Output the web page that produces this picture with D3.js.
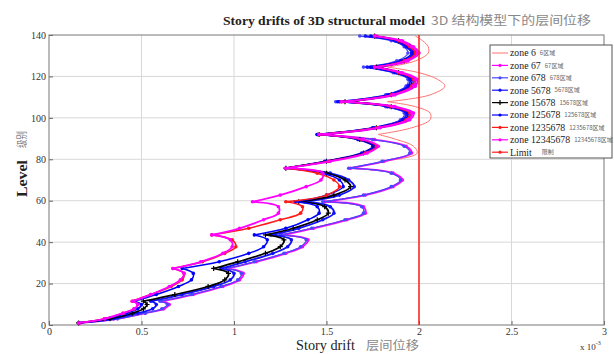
<!DOCTYPE html>
<meta charset="utf-8">
<style>
body { margin: 0; background: #fff; }
.axis .domain { display: none; }
.axis text { font-family: "Liberation Serif", serif; font-size: 10px; fill: #333; }
.axis line { stroke: #666; }
</style>
<svg width="614" height="354"></svg>
<script src="https://cdn.jsdelivr.net/npm/d3@7"></script>
<script>

var svg = d3.select("svg");

var xTicks = [0, 0.5, 1, 1.5, 2, 2.5, 3],
    yTicks = [0, 20, 40, 60, 80, 100, 120, 140],
    limitDrift = 2;

var belts = [1, 11.5, 27.3, 43.5, 59.5, 75.7, 92, 107.8, 124.5, 139.5];
var levels = [1, 3, 5.7, 7.8, 9.9, 11.5,
  14.7, 18.6, 21.8, 24.9, 27.3,
  30.5, 34.6, 37.8, 41.1, 43.5,
  46.7, 50.8, 54, 57.1, 59.5,
  62.7, 66.8, 70, 73.3, 75.7,
  79, 83, 86.3, 89.5, 92,
  95.2, 99.1, 102.3, 105.4, 107.8,
  111.1, 115.3, 118.6, 121.8, 124.5,
  127.5, 131.3, 134.3, 137.2, 139.5];

// story drift (x 10^-3)
var zone6 = [0.16, 0.37, 0.52, 0.61, 0.64, 0.60,
  0.77, 0.93, 1.02, 1.04, 0.96,
  1.11, 1.27, 1.36, 1.39, 1.25,
  1.42, 1.60, 1.70, 1.69, 1.48,
  1.70, 1.85, 1.90, 1.85, 1.62,
  1.82, 1.99, 1.97, 1.88, 1.78,
  1.96, 2.06, 2.06, 1.98, 1.83,
  2.06, 2.14, 2.10, 2.00, 1.83,
  1.98, 2.05, 2.05, 2.02, 1.98];
var zone67 = [0.17, 0.37, 0.52, 0.62, 0.65, 0.61,
  0.78, 0.94, 1.03, 1.05, 0.97,
  1.12, 1.28, 1.37, 1.40, 1.26,
  1.43, 1.61, 1.71, 1.70, 1.49,
  1.71, 1.86, 1.91, 1.86, 1.63,
  1.81, 1.96, 1.93, 1.76, 1.47,
  1.79, 1.95, 1.97, 1.87, 1.59,
  1.87, 1.98, 1.99, 1.91, 1.77,
  1.94, 2.00, 1.97, 1.91, 1.77];
var zone678 = [0.16, 0.37, 0.52, 0.61, 0.64, 0.60,
  0.77, 0.93, 1.02, 1.04, 0.96,
  1.11, 1.27, 1.36, 1.39, 1.25,
  1.42, 1.60, 1.70, 1.69, 1.48,
  1.70, 1.85, 1.90, 1.85, 1.62,
  1.80, 1.95, 1.92, 1.75, 1.45,
  1.75, 1.90, 1.92, 1.82, 1.55,
  1.82, 1.93, 1.94, 1.86, 1.70,
  1.88, 1.94, 1.92, 1.85, 1.68];
var zone5678 = [0.16, 0.35, 0.48, 0.56, 0.58, 0.55,
  0.72, 0.89, 0.98, 1.00, 0.93,
  1.06, 1.21, 1.29, 1.31, 1.20,
  1.35, 1.48, 1.54, 1.52, 1.38,
  1.57, 1.65, 1.62, 1.52, 1.28,
  1.49, 1.69, 1.75, 1.67, 1.45,
  1.75, 1.91, 1.93, 1.83, 1.56,
  1.83, 1.94, 1.95, 1.87, 1.72,
  1.90, 1.96, 1.93, 1.87, 1.71];
var zone15678 = [0.16, 0.33, 0.45, 0.51, 0.53, 0.51,
  0.68, 0.86, 0.95, 0.97, 0.89,
  1.02, 1.17, 1.25, 1.27, 1.17,
  1.32, 1.45, 1.51, 1.49, 1.35,
  1.54, 1.63, 1.60, 1.50, 1.28,
  1.50, 1.70, 1.76, 1.68, 1.46,
  1.77, 1.93, 1.95, 1.85, 1.60,
  1.85, 1.96, 1.97, 1.89, 1.77,
  1.92, 1.98, 1.95, 1.89, 1.76];
var zone125678 = [0.16, 0.31, 0.42, 0.48, 0.50, 0.46,
  0.58, 0.70, 0.77, 0.78, 0.72,
  0.92, 1.08, 1.16, 1.18, 1.11,
  1.28, 1.40, 1.46, 1.45, 1.33,
  1.50, 1.59, 1.57, 1.48, 1.28,
  1.50, 1.70, 1.76, 1.68, 1.45,
  1.76, 1.92, 1.94, 1.84, 1.57,
  1.84, 1.95, 1.96, 1.88, 1.74,
  1.91, 1.97, 1.94, 1.88, 1.74];
var zone1235678 = [0.16, 0.30, 0.40, 0.46, 0.48, 0.45,
  0.55, 0.66, 0.72, 0.73, 0.67,
  0.83, 0.95, 1.01, 0.99, 0.88,
  1.08, 1.25, 1.36, 1.37, 1.28,
  1.50, 1.57, 1.54, 1.45, 1.28,
  1.51, 1.71, 1.77, 1.69, 1.46,
  1.77, 1.93, 1.95, 1.85, 1.58,
  1.85, 1.96, 1.97, 1.89, 1.76,
  1.92, 1.98, 1.95, 1.89, 1.76];
var zone12345678 = [0.16, 0.30, 0.40, 0.46, 0.48, 0.45,
  0.55, 0.65, 0.71, 0.73, 0.67,
  0.82, 0.94, 0.99, 0.98, 0.88,
  1.03, 1.16, 1.24, 1.24, 1.10,
  1.25, 1.39, 1.47, 1.48, 1.28,
  1.52, 1.72, 1.78, 1.70, 1.46,
  1.78, 1.94, 1.96, 1.86, 1.58,
  1.86, 1.97, 1.98, 1.90, 1.76,
  1.93, 1.99, 1.96, 1.90, 1.76];

var series = [
  {name: "zone 6", cn: "6区域", values: zone6, color: "#ff7272", width: 1, marker: "none"},
  {name: "zone 67", cn: "67区域", values: zone67, color: "#ff00ff", width: 1.8, marker: "dot"},
  {name: "zone 678", cn: "678区域", values: zone678, color: "#4848ff", width: 1.2, marker: "dot"},
  {name: "zone 5678", cn: "5678区域", values: zone5678, color: "#1010ff", width: 1.8, marker: "dot"},
  {name: "zone 15678", cn: "15678区域", values: zone15678, color: "#000", width: 1.7, marker: "plus"},
  {name: "zone 125678", cn: "125678区域", values: zone125678, color: "#0000ff", width: 1.5, marker: "dot"},
  {name: "zone 1235678", cn: "1235678区域", values: zone1235678, color: "#ff1a1a", width: 1.5, marker: "dot"},
  {name: "zone 12345678", cn: "12345678区域", values: zone12345678, color: "#ff00ff", width: 1.8, marker: "dot"}
];

var x = d3.scaleLinear().domain([0, 3]).range([49, 604]),
    y = d3.scaleLinear().domain([0, 140]).range([325, 35]);

// grid
svg.append("g")
    .attr("stroke", "#d8d8d8")
    .attr("stroke-width", 1)
  .selectAll("line")
  .data(xTicks.slice(1, -1))
  .enter().append("line")
    .attr("x1", function(d) { return x(d); })
    .attr("x2", function(d) { return x(d); })
    .attr("y1", y(0))
    .attr("y2", y(140));

svg.append("g")
    .attr("stroke", "#d8d8d8")
    .attr("stroke-width", 1)
  .selectAll("line")
  .data(yTicks.slice(1, -1))
  .enter().append("line")
    .attr("x1", x(0))
    .attr("x2", x(3))
    .attr("y1", function(d) { return y(d); })
    .attr("y2", function(d) { return y(d); });

svg.append("g")
    .attr("class", "axis")
    .attr("transform", "translate(0," + y(0) + ")")
    .call(d3.axisBottom(x).tickValues(xTicks).tickSize(-4).tickPadding(3)
      .tickFormat(function(d) { return d; }));

svg.append("g")
    .attr("class", "axis")
    .attr("transform", "translate(" + x(0) + ",0)")
    .call(d3.axisLeft(y).tickValues(yTicks).tickSize(-4).tickPadding(3));

svg.append("rect")
    .attr("x", x(0))
    .attr("y", y(140))
    .attr("width", x(3) - x(0))
    .attr("height", y(0) - y(140))
    .attr("fill", "none")
    .attr("stroke", "#777")
    .attr("stroke-width", 1);

// curves: one smooth piece per story zone, sharp at the belt floors
var line = d3.line()
    .x(function(d) { return x(d[1]); })
    .y(function(d) { return y(d[0]); })
    .curve(d3.curveCatmullRom.alpha(0.5));

function pieces(values) {
  var out = [], cur = [];
  levels.forEach(function(l, i) {
    cur.push([l, values[i]]);
    if (i > 0 && belts.indexOf(l) >= 0) {
      out.push(cur);
      cur = [[l, values[i]]];
    }
  });
  return out;
}

var plot = svg.append("g");

series.forEach(function(s) {
  var g = plot.append("g");
  g.append("path")
      .attr("d", pieces(s.values).map(function(p) { return line(p); }).join(""))
      .attr("fill", "none")
      .attr("stroke", s.color)
      .attr("stroke-width", s.width);

  var pts = levels.map(function(l, i) { return [l, s.values[i]]; });
  if (s.marker == "dot") {
    g.selectAll("circle")
      .data(pts)
      .enter().append("circle")
        .attr("cx", function(d) { return x(d[1]); })
        .attr("cy", function(d) { return y(d[0]); })
        .attr("r", 1.8)
        .attr("fill", s.color);
  } else if (s.marker == "plus") {
    g.selectAll("path.m")
      .data(pts)
      .enter().append("path")
        .attr("class", "m")
        .attr("d", function(d) {
          var cx = x(d[1]), cy = y(d[0]);
          return "M" + (cx - 2.5) + "," + cy + "H" + (cx + 2.5) + "M" + cx + "," + (cy - 2.5) + "V" + (cy + 2.5);
        })
        .attr("stroke", s.color)
        .attr("stroke-width", 1.2);
  }
});

// limit
svg.append("line")
    .attr("x1", x(limitDrift))
    .attr("x2", x(limitDrift))
    .attr("y1", y(0))
    .attr("y2", y(140))
    .attr("stroke", "#ff2020")
    .attr("stroke-width", 1.5);

// titles
svg.append("text")
    .attr("x", 223)
    .attr("y", 25)
    .style("font-family", "'Liberation Serif', serif")
    .attr("font-size", 13)
    .attr("font-weight", "bold")
    .attr("fill", "#222")
    .attr("textLength", 202)
    .attr("lengthAdjust", "spacingAndGlyphs")
    .text("Story drifts of 3D structural model");

svg.append("text")
    .attr("x", 431)
    .attr("y", 25)
    .style("font-family", "'Noto Sans CJK SC', sans-serif")
    .attr("font-size", 12)
    .attr("fill", "#888")
    .attr("textLength", 160)
    .attr("lengthAdjust", "spacingAndGlyphs")
    .text("3D 结构模型下的层间位移");

svg.append("text")
    .attr("x", 296)
    .attr("y", 350)
    .style("font-family", "'Liberation Serif', serif")
    .attr("font-size", 15)
    .attr("fill", "#222")
    .attr("textLength", 59)
    .attr("lengthAdjust", "spacingAndGlyphs")
    .text("Story drift");

svg.append("text")
    .attr("x", 366)
    .attr("y", 350)
    .style("font-family", "'Noto Sans CJK SC', sans-serif")
    .attr("font-size", 12)
    .attr("fill", "#888")
    .attr("textLength", 53)
    .attr("lengthAdjust", "spacingAndGlyphs")
    .text("层间位移");

var expo = svg.append("text")
    .attr("x", 580)
    .attr("y", 350)
    .style("font-family", "'Liberation Serif', serif")
    .attr("font-size", 9)
    .attr("fill", "#333");
expo.append("tspan").text("x 10");
expo.append("tspan").attr("dy", -5).attr("font-size", 6).text("-3");

svg.append("text")
    .attr("transform", "translate(27,197) rotate(-90)")
    .style("font-family", "'Liberation Serif', serif")
    .attr("font-size", 15)
    .attr("font-weight", "bold")
    .attr("fill", "#222")
    .attr("textLength", 37)
    .attr("lengthAdjust", "spacingAndGlyphs")
    .text("Level");

svg.append("text")
    .attr("transform", "translate(26,148) rotate(-90)")
    .style("font-family", "'Noto Sans CJK SC', sans-serif")
    .attr("font-size", 11)
    .attr("fill", "#888")
    .attr("textLength", 17)
    .attr("lengthAdjust", "spacingAndGlyphs")
    .text("级别");

// legend
var legendItems = series.concat([{name: "Limit", cn: "限制", color: "#ff2020", width: 1.2, marker: "dot"}]);

var legend = svg.append("g");
legend.append("rect")
    .attr("x", 490)
    .attr("y", 45)
    .attr("width", 122)
    .attr("height", 113)
    .attr("fill", "#fff")
    .attr("stroke", "#555")
    .attr("stroke-width", 1);

var row = legend.selectAll("g.row")
    .data(legendItems)
    .enter().append("g")
      .attr("class", "row")
      .attr("transform", function(d, i) { return "translate(0," + (53 + i * 12.4) + ")"; });

row.append("line")
    .attr("x1", 492)
    .attr("x2", 508)
    .attr("stroke", function(d) { return d.color; })
    .attr("stroke-width", function(d) { return Math.min(d.width, 1.2); });

row.filter(function(d) { return d.marker == "dot"; }).append("circle")
    .attr("cx", 500)
    .attr("r", 1.6)
    .attr("fill", function(d) { return d.color; });

row.filter(function(d) { return d.marker == "plus"; }).append("path")
    .attr("d", "M497.5,0H502.5M500,-2.5V2.5")
    .attr("stroke", "#000")
    .attr("stroke-width", 1.2);

row.append("text")
    .attr("class", "en")
    .attr("x", 510)
    .attr("dy", "0.35em")
    .style("font-family", "'Liberation Serif', serif")
    .attr("font-size", 9.8)
    .attr("fill", "#222")
    .text(function(d) { return d.name; });

row.each(function(d) {
  var r = d3.select(this),
      w = r.select("text.en").node().getComputedTextLength(),
      x0 = 510 + w + (d.name == "Limit" ? 10 : 4);
  r.append("text")
      .attr("x", x0)
      .attr("dy", "0.35em")
      .style("font-family", "'Noto Sans CJK SC', sans-serif")
      .attr("font-size", 6)
      .attr("fill", "#666")
      .text(d.cn);
});

</script>
